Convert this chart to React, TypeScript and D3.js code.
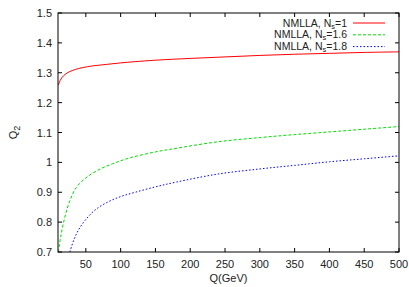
import React, { useEffect, useRef } from "react";
import * as d3 from "d3";

// Q values (GeV) and curves
const qRed = [10, 11, 13, 16, 20, 26, 35, 45, 60, 80, 100, 120, 150, 200, 250, 300, 350, 400, 450, 500];
const valRed = [1.258, 1.262, 1.274, 1.285, 1.294, 1.303, 1.311, 1.317, 1.323, 1.328, 1.333, 1.337, 1.342, 1.348, 1.353, 1.358, 1.362, 1.365, 1.368, 1.37];

const qGreen = [10, 11, 14, 19, 26, 36, 50, 69, 88, 113, 150, 177, 240, 300, 350, 400, 450, 500];
const valGreen = [0.7, 0.709, 0.753, 0.809, 0.865, 0.915, 0.948, 0.976, 0.995, 1.015, 1.035, 1.046, 1.069, 1.083, 1.093, 1.102, 1.111, 1.12];

const qBlue = [27, 33, 40, 50, 64, 83, 102, 121, 150, 180, 240, 300, 350, 400, 450, 500];
const valBlue = [0.7, 0.742, 0.776, 0.809, 0.842, 0.869, 0.887, 0.9, 0.918, 0.934, 0.961, 0.978, 0.99, 1.002, 1.012, 1.022];

const xTicks = [50, 100, 150, 200, 250, 300, 350, 400, 450, 500];
const yTicks = [0.7, 0.8, 0.9, 1, 1.1, 1.2, 1.3, 1.4, 1.5];

const seriesLabels = ["1", "1.6", "1.8"];

const App = () => {
  const svgRef = useRef<SVGSVGElement>(null);

  useEffect(() => {
    const svg = d3.select(svgRef.current);
    svg.selectAll("*").remove();

    const width = 409;
    const height = 287;
    const margin = { top: 13, right: 10, bottom: 35, left: 58 };
    const font = "Liberation Sans, Arial, sans-serif";

    const x = d3.scaleLinear().domain([10, 500]).range([margin.left, width - margin.right]);
    const y = d3.scaleLinear().domain([0.7, 1.5]).range([height - margin.bottom, margin.top]);

    const x0 = x(10), x1 = x(500), y0 = y(0.7), y1 = y(1.5);
    const tick = 4;

    const g = svg.append("g");

    // ticks, mirrored on all sides
    xTicks.forEach((t) => {
      g.append("line").attr("x1", x(t)).attr("x2", x(t)).attr("y1", y0).attr("y2", y0 - tick).attr("stroke", "#000");
      g.append("line").attr("x1", x(t)).attr("x2", x(t)).attr("y1", y1).attr("y2", y1 + tick).attr("stroke", "#000");
      g.append("text")
        .attr("x", x(t))
        .attr("y", y0 + 16)
        .attr("text-anchor", "middle")
        .attr("font-family", font)
        .attr("font-size", 11)
        .attr("fill", "#222")
        .text(t);
    });
    yTicks.forEach((t) => {
      g.append("line").attr("x1", x0).attr("x2", x0 + tick).attr("y1", y(t)).attr("y2", y(t)).attr("stroke", "#000");
      g.append("line").attr("x1", x1).attr("x2", x1 - tick).attr("y1", y(t)).attr("y2", y(t)).attr("stroke", "#000");
      g.append("text")
        .attr("x", x0 - 6)
        .attr("y", y(t) + 4)
        .attr("text-anchor", "end")
        .attr("font-family", font)
        .attr("font-size", 11)
        .attr("fill", "#222")
        .text(d3.format("~g")(t));
    });

    const clip = svg.append("defs").append("clipPath").attr("id", "plotclip");
    clip.append("rect").attr("x", x0).attr("y", y1).attr("width", x1 - x0).attr("height", y0 - y1);

    const line = d3
      .line<[number, number]>()
      .x((d) => x(d[0]))
      .y((d) => y(d[1]))
      .curve(d3.curveCatmullRom.alpha(0.5));

    const series = [
      { q: qRed, v: valRed, color: "#ff0000", dash: null },
      { q: qGreen, v: valGreen, color: "#00dd00", dash: "3,2" },
      { q: qBlue, v: valBlue, color: "#0000ff", dash: "1.5,2" },
    ];

    series.forEach((s) => {
      const pts = s.q.map((q, i) => [q, s.v[i]] as [number, number]);
      g.append("path")
        .attr("d", line(pts))
        .attr("fill", "none")
        .attr("stroke", s.color)
        .attr("stroke-width", 1)
        .attr("stroke-dasharray", s.dash)
        .attr("clip-path", "url(#plotclip)");
    });

    // frame
    g.append("rect")
      .attr("x", x0)
      .attr("y", y1)
      .attr("width", x1 - x0)
      .attr("height", y0 - y1)
      .attr("fill", "none")
      .attr("stroke", "#000");

    // legend
    series.forEach((s, i) => {
      const ly = 23 + i * 11.8;
      const t = g
        .append("text")
        .attr("x", 347)
        .attr("y", ly + 3.5)
        .attr("text-anchor", "end")
        .attr("font-family", font)
        .attr("font-size", 10.5)
        .attr("fill", "#222");
      t.append("tspan").text("NMLLA, N");
      t.append("tspan").attr("dy", 2).attr("font-size", 7.5).text("s");
      t.append("tspan").attr("dy", -2).text("=" + seriesLabels[i]);
      g.append("line")
        .attr("x1", 353)
        .attr("x2", 385)
        .attr("y1", ly)
        .attr("y2", ly)
        .attr("stroke", s.color)
        .attr("stroke-dasharray", s.dash);
    });

    // axis labels
    g.append("text")
      .attr("x", (x0 + x1) / 2)
      .attr("y", 282)
      .attr("text-anchor", "middle")
      .attr("font-family", font)
      .attr("font-size", 11)
      .attr("fill", "#222")
      .text("Q(GeV)");

    const yl = g
      .append("text")
      .attr("transform", `translate(17,${(y0 + y1) / 2}) rotate(-90)`)
      .attr("text-anchor", "middle")
      .attr("font-family", font)
      .attr("font-size", 11)
      .attr("fill", "#222");
    yl.append("tspan").text("Q");
    yl.append("tspan").attr("dy", 3).attr("font-size", 9).text("2");
  }, []);

  return (
    <svg
      ref={svgRef}
      width={409}
      height={287}
      style={{ position: "absolute", left: 0, top: 0, background: "#fff" }}
    />
  );
};

export default App;
